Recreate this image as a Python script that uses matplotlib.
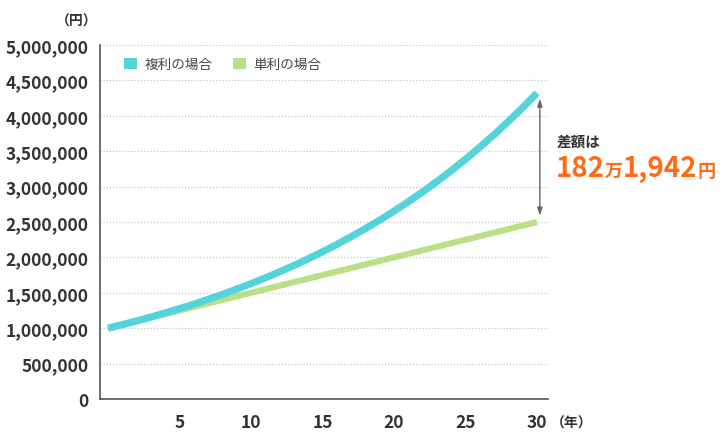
import matplotlib
matplotlib.use("Agg")
import matplotlib.pyplot as plt
from matplotlib.patches import Patch
from matplotlib.ticker import FuncFormatter

plt.rcParams['font.family'] = ['Noto Sans CJK JP', 'DejaVu Sans']

# 元本100万円、年5%で30年運用
years = list(range(0, 31))
compound = [1000000, 1050000, 1102500, 1157625, 1215506, 1276282, 1340096,
            1407100, 1477455, 1551328, 1628895, 1710339, 1795856, 1885649,
            1979932, 2078928, 2182875, 2292018, 2406619, 2526950, 2653298,
            2785963, 2925261, 3071524, 3225100, 3386355, 3555673, 3733456,
            3920129, 4116136, 4321942]
simple = [1000000, 1050000, 1100000, 1150000, 1200000, 1250000, 1300000,
          1350000, 1400000, 1450000, 1500000, 1550000, 1600000, 1650000,
          1700000, 1750000, 1800000, 1850000, 1900000, 1950000, 2000000,
          2050000, 2100000, 2150000, 2200000, 2250000, 2300000, 2350000,
          2400000, 2450000, 2500000]
x_ticks = [5, 10, 15, 20, 25, 30]
y_ticks = [0, 500000, 1000000, 1500000, 2000000, 2500000, 3000000,
           3500000, 4000000, 4500000, 5000000]
labels = ['複利の場合', '単利の場合']

cyan = '#55d3da'
green = '#badf85'
text_col = '#333333'

fig = plt.figure(figsize=(7.25, 4.39), dpi=100)
ax = fig.add_axes([100 / 725, 1 - 400 / 439, 448 / 725, 354 / 439])

ax.plot(years, simple, color=green, lw=4.4, solid_capstyle='butt', zorder=3)
ax.plot(years, compound, color=cyan, lw=5.2, solid_capstyle='butt', zorder=4)

ax.set_xlim(-0.56, 30.77)
ax.set_ylim(0, 5000000)
ax.set_xticks(x_ticks)
ax.set_yticks(y_ticks)
ax.yaxis.set_major_formatter(FuncFormatter(lambda v, p: f'{int(v):,}'))
ax.tick_params(length=0, labelsize=12.5, labelcolor=text_col)
ax.tick_params(axis='y', pad=8)
ax.tick_params(axis='x', pad=10)
for lab in ax.get_xticklabels() + ax.get_yticklabels():
    lab.set_fontweight('bold')

ax.grid(axis='y', color='#c8c8c8', lw=0.9, ls=(0, (1, 1.5)), zorder=1)
for s in ['top', 'right']:
    ax.spines[s].set_visible(False)
ax.spines['left'].set_color('#555555')
ax.spines['bottom'].set_color('#555555')
ax.spines['left'].set_linewidth(1.2)
ax.spines['bottom'].set_linewidth(1.2)

# 単位
fig.text(77 / 725, 1 - 22 / 439, '（円）', ha='center', va='center',
         fontsize=10, fontweight='bold', color=text_col)
fig.text(572 / 725, 1 - 424 / 439, '（年）', ha='center', va='center',
         fontsize=10, fontweight='bold', color=text_col)

# 凡例
handles = [Patch(facecolor=cyan, edgecolor='none'),
           Patch(facecolor=green, edgecolor='none')]
ax.legend(handles, labels, loc='upper left', bbox_to_anchor=(0.027, 1.0),
          ncol=2, frameon=False, fontsize=9.8, handlelength=0.9,
          handleheight=0.9, handletextpad=0.6, columnspacing=1.5,
          labelcolor='#444444')

# 差額の矢印
ax.annotate('', xy=(30.2, compound[-1] - 80000), xytext=(30.2, simple[-1] + 90000),
            arrowprops=dict(arrowstyle='<|-|>,head_length=0.45,head_width=0.15',
                            color='#666666', lw=1.0, shrinkA=0, shrinkB=0))

fig.text(557 / 725, 1 - 142 / 439, '差額は', ha='left', va='center',
         fontsize=10.5, fontweight='bold', color=text_col)

orange = '#ff6a13'
parts = [('182', 20), ('万', 13), ('1,942', 20), ('円', 13)]
fig.canvas.draw()
renderer = fig.canvas.get_renderer()
xpos = 556 / 725
base = 1 - 177 / 439
for s, fs in parts:
    t = fig.text(xpos, base, s, ha='left', va='baseline', fontsize=fs,
                 fontweight='bold', color=orange)
    bb = t.get_window_extent(renderer=renderer)
    xpos += bb.width / fig.bbox.width

fig.savefig('out.png', dpi=100)
